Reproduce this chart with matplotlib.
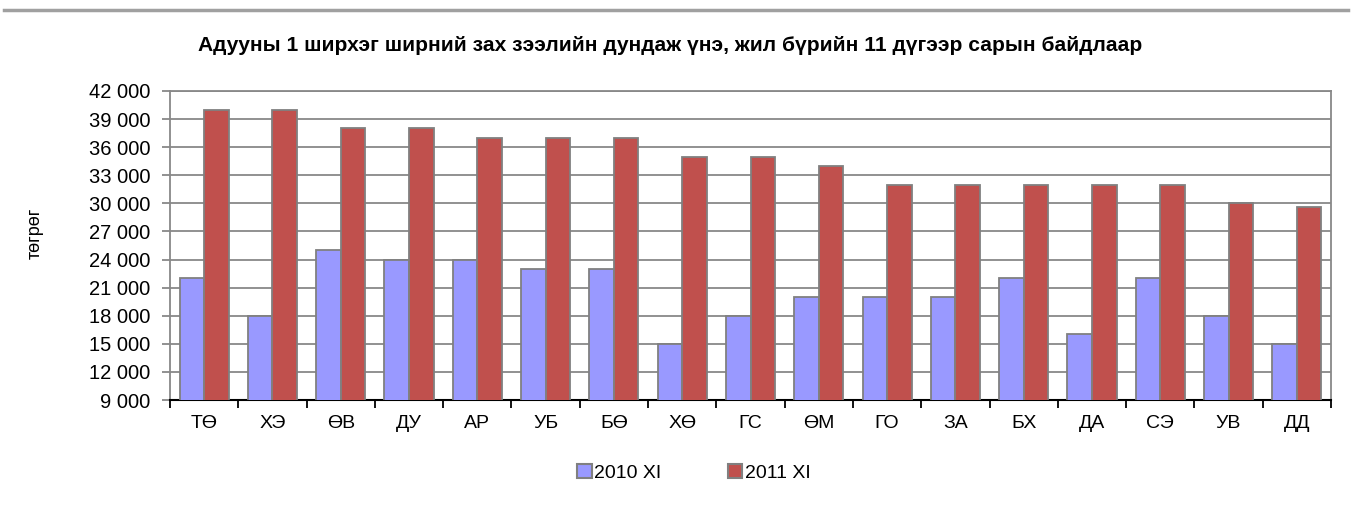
import numpy as np
import matplotlib.pyplot as plt
from matplotlib.ticker import FuncFormatter, FixedLocator
from matplotlib.lines import Line2D

plt.rcParams['font.family'] = ['Liberation Sans', 'DejaVu Sans']

aimag = ['ТӨ', 'ХЭ', 'ӨВ', 'ДУ', 'АР', 'УБ', 'БӨ', 'ХӨ', 'ГС', 'ӨМ',
         'ГО', 'ЗА', 'БХ', 'ДА', 'СЭ', 'УВ', 'ДД']
une_2010 = [22000, 18000, 25000, 24000, 24000, 23000, 23000, 15000, 18000,
            20000, 20000, 20000, 22000, 16000, 22000, 18000, 15000]
une_2011 = [40000, 40000, 38000, 38000, 37000, 37000, 37000, 35000, 35000,
            34000, 32000, 32000, 32000, 32000, 32000, 30000, 29600]
yticks = list(range(9000, 42001, 3000))

c2010 = '#9999FF'
c2011 = '#C0504D'
edge = '#808080'

fig = plt.figure(figsize=(13.52, 5.29), dpi=100)
ax = fig.add_axes([170 / 1352, 1 - 400 / 529, (1331 - 170) / 1352, (400 - 91) / 529])

x = np.arange(len(aimag))
w = 0.36
ax.bar(x - w / 2, une_2010, w, color=c2010, edgecolor=edge, linewidth=1.3, zorder=3)
ax.bar(x + w / 2, une_2011, w, color=c2011, edgecolor=edge, linewidth=1.3, zorder=3)

ax.set_xlim(-0.5, len(aimag) - 0.5)
ax.set_ylim(9000, 42000)
ax.set_yticks(yticks)
ax.yaxis.set_major_formatter(FuncFormatter(lambda v, p: f'{int(v):,}'.replace(',', ' ')))
ax.grid(axis='y', color='#888888', linewidth=1.3, zorder=0)

ax.set_xticks(x)
ax.set_xticklabels(aimag, fontsize=14)
ax.xaxis.set_minor_locator(FixedLocator(np.arange(-0.5, len(aimag), 1.0)))
ax.tick_params(axis='x', which='major', length=0, pad=11)
ax.tick_params(axis='x', which='minor', length=6, width=1.3, color='black')
ax.tick_params(axis='y', labelsize=14.5, length=6, width=1.3, color='#888888', pad=8)

for s in ['left', 'right', 'top']:
    ax.spines[s].set_color('#888888')
    ax.spines[s].set_linewidth(1.3)
ax.spines['bottom'].set_color('black')
ax.spines['bottom'].set_linewidth(1.5)

fig.text(35 / 1352, 1 - 233 / 529, 'төгрөг', rotation=90, ha='center', va='center', fontsize=13)

fig.text(670 / 1352, 1 - 46 / 529, 'Адууны 1 ширхэг ширний зах зээлийн дундаж үнэ, жил бүрийн 11 дүгээр сарын байдлаар',
         ha='center', va='center', fontsize=15.1, fontweight='bold')

# horizontal rule at the top of the page
fig.add_artist(Line2D([0.003, 0.997], [1 - 10 / 529] * 2, color='#A0A0A0', linewidth=2.5,
                      transform=fig.transFigure))

handles = [plt.Rectangle((0, 0), 1, 1, facecolor=c2010, edgecolor=edge, linewidth=1.5),
           plt.Rectangle((0, 0), 1, 1, facecolor=c2011, edgecolor=edge, linewidth=1.5)]
fig.legend(handles, ['2010 XI', '2011 XI'], loc='center', bbox_to_anchor=(694 / 1352, 1 - 473 / 529),
           ncol=2, frameon=False, fontsize=14, handlelength=0.75, handleheight=0.75,
           handletextpad=0.15, columnspacing=3.4)

fig.savefig('out.png', dpi=100)
